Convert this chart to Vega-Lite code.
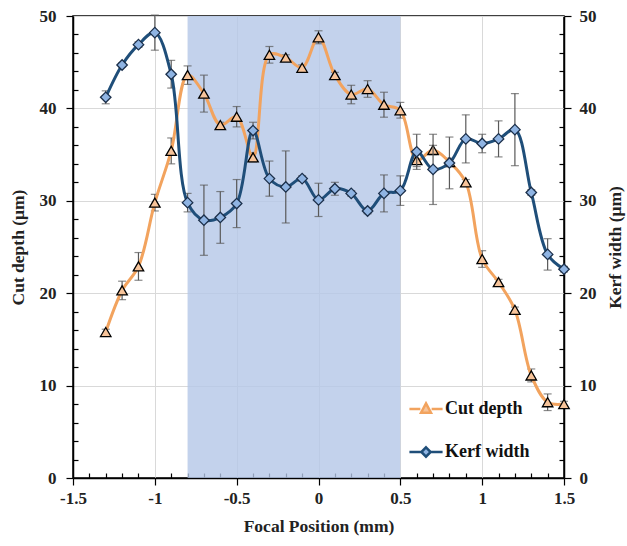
{
  "$schema": "https://vega.github.io/schema/vega-lite/v6.json",
  "width": 491,
  "height": 462,
  "autosize": "none",
  "padding": {"left": 73, "top": 16, "right": 63, "bottom": 68},
  "background": "white",
  "config": {
    "view": {"stroke": "black", "strokeWidth": 1.5},
    "font": "Liberation Serif",
    "axis": {
      "labelFont": "Liberation Serif", "labelFontWeight": "bold", "labelFontSize": 17, "labelColor": "#222",
      "titleFont": "Liberation Serif", "titleFontWeight": "bold", "titleFontSize": 17.5, "titleColor": "#222",
      "domainColor": "black", "domainWidth": 1.5, "tickColor": "black", "tickWidth": 1.2,
      "gridColor": "#d9d9d9", "gridWidth": 1
    },
    "legend": {"labelFont": "Liberation Serif", "labelFontWeight": "bold", "labelFontSize": 18, "labelColor": "#111"}
  },
  "datasets": {
    "pts": [
      {"x": -1.3, "cut": 15.8, "cutErr": 0.3, "kerf": 41.2, "kerfErr": 0.7},
      {"x": -1.2, "cut": 20.3, "cutErr": 1.0, "kerf": 44.7, "kerfErr": 0.2},
      {"x": -1.1, "cut": 22.9, "cutErr": 1.5, "kerf": 46.9, "kerfErr": 0.3},
      {"x": -1.0, "cut": 29.8, "cutErr": 0.9, "kerf": 48.2, "kerfErr": 1.9},
      {"x": -0.9, "cut": 35.4, "cutErr": 1.4, "kerf": 43.7, "kerfErr": 1.5},
      {"x": -0.8, "cut": 43.6, "cutErr": 1.0, "kerf": 29.8, "kerfErr": 1.0},
      {"x": -0.7, "cut": 41.6, "cutErr": 2.0, "kerf": 27.9, "kerfErr": 3.8},
      {"x": -0.6, "cut": 38.2, "cutErr": 0.3, "kerf": 28.2, "kerfErr": 2.8},
      {"x": -0.5, "cut": 39.1, "cutErr": 1.1, "kerf": 29.7, "kerfErr": 2.6},
      {"x": -0.4, "cut": 34.7, "cutErr": 0.5, "kerf": 37.6, "kerfErr": 0.9},
      {"x": -0.3, "cut": 45.8, "cutErr": 0.9, "kerf": 32.4, "kerfErr": 1.9},
      {"x": -0.2, "cut": 45.5, "cutErr": 0.3, "kerf": 31.5, "kerfErr": 3.9},
      {"x": -0.1, "cut": 44.4, "cutErr": 0.3, "kerf": 32.4, "kerfErr": 0.3},
      {"x": 0.0, "cut": 47.7, "cutErr": 0.7, "kerf": 30.1, "kerfErr": 1.8},
      {"x": 0.1, "cut": 43.6, "cutErr": 0.3, "kerf": 31.3, "kerfErr": 0.7},
      {"x": 0.2, "cut": 41.5, "cutErr": 1.0, "kerf": 30.8, "kerfErr": 0.3},
      {"x": 0.3, "cut": 42.1, "cutErr": 0.9, "kerf": 28.9, "kerfErr": 0.3},
      {"x": 0.4, "cut": 40.4, "cutErr": 1.35, "kerf": 30.8, "kerfErr": 2.0},
      {"x": 0.5, "cut": 39.8, "cutErr": 0.85, "kerf": 31.1, "kerfErr": 1.6},
      {"x": 0.6, "cut": 34.4, "cutErr": 0.7, "kerf": 35.3, "kerfErr": 1.9},
      {"x": 0.7, "cut": 35.5, "cutErr": 0.5, "kerf": 33.4, "kerfErr": 3.8},
      {"x": 0.8, "cut": 34.2, "cutErr": 0.4, "kerf": 34.1, "kerfErr": 2.8},
      {"x": 0.9, "cut": 32.0, "cutErr": 0.3, "kerf": 36.7, "kerfErr": 2.6},
      {"x": 1.0, "cut": 23.7, "cutErr": 0.9, "kerf": 36.2, "kerfErr": 1.0},
      {"x": 1.1, "cut": 21.2, "cutErr": 0.3, "kerf": 36.7, "kerfErr": 1.95},
      {"x": 1.2, "cut": 18.2, "cutErr": 0.3, "kerf": 37.7, "kerfErr": 3.9},
      {"x": 1.3, "cut": 11.1, "cutErr": 0.7, "kerf": 30.9, "kerfErr": 0.3},
      {"x": 1.4, "cut": 8.2, "cutErr": 0.9, "kerf": 24.2, "kerfErr": 1.7},
      {"x": 1.5, "cut": 8.0, "cutErr": 0.3, "kerf": 22.6, "kerfErr": 0.3}
    ],
    "band": [{"x1": -0.8, "x2": 0.5}]
  },
  "layer": [
    {
      "data": {"name": "band"},
      "mark": {"type": "rect", "color": "#b4c7e7", "opacity": 0.8},
      "encoding": {
        "x": {
          "field": "x1", "type": "quantitative",
          "title": "Focal Position (mm)",
          "scale": {"domain": [-1.5, 1.5], "nice": false, "zero": false},
          "axis": {
            "values": [-1.5,-1.4,-1.3,-1.2,-1.1,-1,-0.9,-0.8,-0.7,-0.6,-0.5,-0.4,-0.3,-0.2,-0.1,0,0.1,0.2,0.3,0.4,0.5,0.6,0.7,0.8,0.9,1,1.1,1.2,1.3,1.4,1.5],
            "tickCount": 100,
            "labelExpr": "abs(datum.value*2 - round(datum.value*2)) < 0.001 ? toString(datum.value) : ''",
            "tickSize": {"condition": {"test": "abs(datum.value*2 - round(datum.value*2)) < 0.001", "value": 7}, "value": -5},
            "gridOpacity": {"condition": {"test": "abs(datum.value*2 - round(datum.value*2)) < 0.001", "value": 1}, "value": 0},
            "labelPadding": 5,
            "titlePadding": 11,
            "labelFlush": false,
            "labelOverlap": false
          }
        },
        "x2": {"field": "x2"}
      }
    },
    {
      "data": {"name": "pts"},
      "layer": [
        {
          "mark": {"type": "errorbar", "ticks": {"size": 8, "color": "#595959", "thickness": 1.2}, "rule": {"color": "#595959", "strokeWidth": 1.2}},
          "encoding": {
            "x": {"field": "x", "type": "quantitative", "title": "Focal Position (mm)"},
            "y": {"field": "cut", "type": "quantitative", "title": "Cut depth (μm)",
              "scale": {"domain": [0, 50], "nice": false},
              "axis": {
                "orient": "left",
                "values": [0,2,4,6,8,10,12,14,16,18,20,22,24,26,28,30,32,34,36,38,40,42,44,46,48,50],
                "tickCount": 100,
                "labelExpr": "datum.value % 10 == 0 ? toString(datum.value) : ''",
                "tickSize": {"condition": {"test": "datum.value % 10 == 0", "value": 7}, "value": -5},
                "gridOpacity": {"condition": {"test": "datum.value % 10 == 0", "value": 1}, "value": 0},
                "labelPadding": 10,
                "titlePadding": 12,
                "labelFlush": false,
                "labelOverlap": false
              }
            },
            "yError": {"field": "cutErr"}
          }
        },
        {
          "mark": {"type": "line", "interpolate": "catmull-rom", "strokeWidth": 3},
          "encoding": {
            "x": {"field": "x", "type": "quantitative", "title": "Focal Position (mm)"},
            "y": {"field": "cut", "type": "quantitative", "title": "Cut depth (μm)"},
            "color": {
              "datum": "Cut depth",
              "type": "nominal",
              "scale": {"domain": ["Cut depth", "Kerf width"], "range": ["#f2a35e", "#1f4e79"]},
              "legend": {
                "title": null,
                "orient": "none",
                "legendX": 335,
                "legendY": 375,
                "symbolSize": 1100,
                "symbolStrokeWidth": 2.5,
                "rowPadding": 16,
                "labelOffset": 1,
                "encode": {
                  "symbols": {
                    "update": {
                      "shape": {"signal": "datum.value == 'Cut depth' ? 'M-1,0L-0.34,0M0.34,0L1,0M0,-0.34L0.3,0.22L-0.3,0.22Z' : 'M-1,0L-0.3,0M0.3,0L1,0M0,-0.28L0.28,0L0,0.28L-0.28,0Z'"},
                      "fill": {"signal": "datum.value == 'Cut depth' ? '#f7c49a' : '#8fb4e3'"},
                      "fillOpacity": {"value": 1}
                    }
                  }
                }
              }
            }
          }
        },
        {
          "mark": {"type": "point", "shape": "triangle-up", "filled": true, "fill": "#f7c49a", "stroke": "black", "strokeWidth": 1.3, "size": 110, "opacity": 1},
          "encoding": {
            "x": {"field": "x", "type": "quantitative", "title": "Focal Position (mm)"},
            "y": {"field": "cut", "type": "quantitative", "title": "Cut depth (μm)"}
          }
        }
      ]
    },
    {
      "data": {"name": "pts"},
      "layer": [
        {
          "mark": {"type": "errorbar", "ticks": {"size": 8, "color": "#595959", "thickness": 1.2}, "rule": {"color": "#595959", "strokeWidth": 1.2}},
          "encoding": {
            "x": {"field": "x", "type": "quantitative", "title": "Focal Position (mm)"},
            "y": {"field": "kerf", "type": "quantitative", "title": "Kerf width (μm)",
              "scale": {"domain": [0, 50], "nice": false},
              "axis": {
                "orient": "right",
                "values": [0,2,4,6,8,10,12,14,16,18,20,22,24,26,28,30,32,34,36,38,40,42,44,46,48,50],
                "tickCount": 100,
                "labelExpr": "datum.value % 10 == 0 ? toString(datum.value) : ''",
                "tickSize": {"condition": {"test": "datum.value % 10 == 0", "value": 7}, "value": -5},
                "grid": false,
                "labelPadding": 8,
                "titlePadding": 28,
                "titleAngle": 270,
                "labelFlush": false,
                "labelOverlap": false
              }
            },
            "yError": {"field": "kerfErr"}
          }
        },
        {
          "mark": {"type": "line", "interpolate": "catmull-rom", "strokeWidth": 3},
          "encoding": {
            "x": {"field": "x", "type": "quantitative", "title": "Focal Position (mm)"},
            "y": {"field": "kerf", "type": "quantitative", "title": "Kerf width (μm)"},
            "color": {"datum": "Kerf width", "type": "nominal"}
          }
        },
        {
          "mark": {"type": "point", "shape": "diamond", "filled": true, "fill": "#8fb4e3", "stroke": "#1b2f4a", "strokeWidth": 1.3, "size": 110, "opacity": 1},
          "encoding": {
            "x": {"field": "x", "type": "quantitative", "title": "Focal Position (mm)"},
            "y": {"field": "kerf", "type": "quantitative", "title": "Kerf width (μm)"}
          }
        }
      ]
    }
  ],
  "resolve": {"scale": {"y": "independent"}}
}
